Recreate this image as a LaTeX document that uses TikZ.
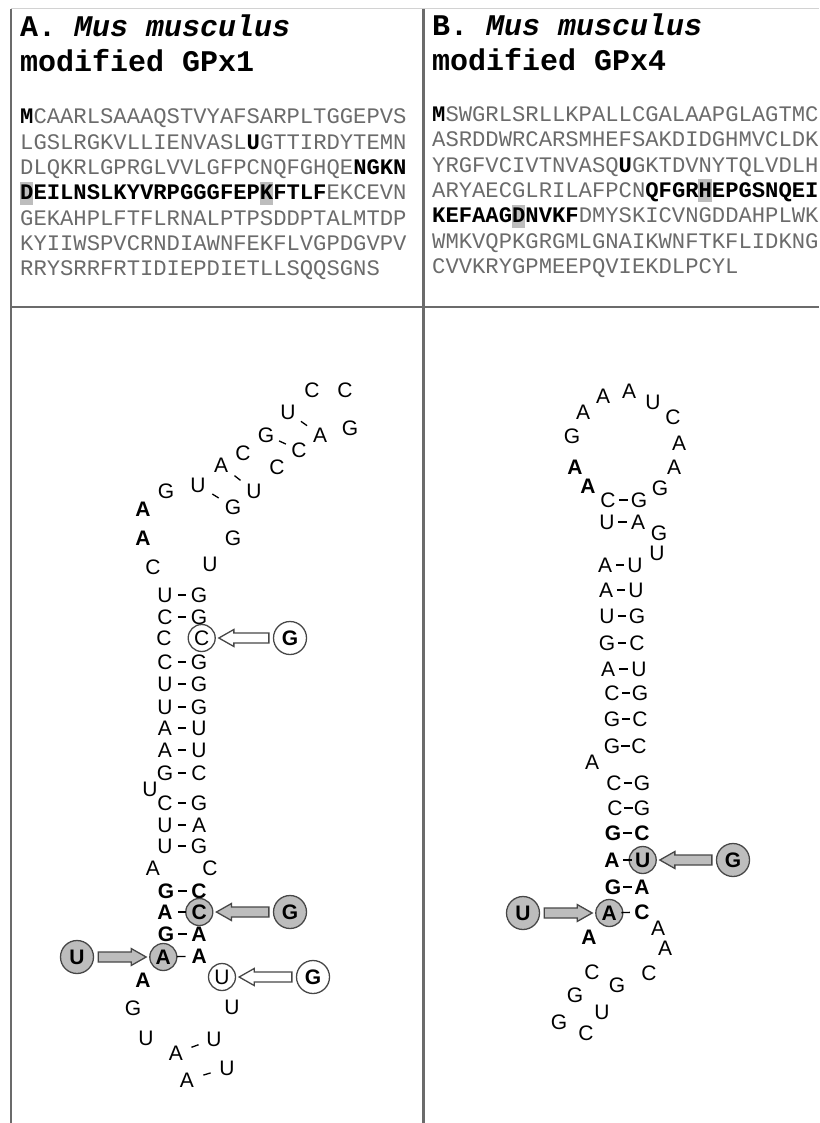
\documentclass[tikz,border=0pt]{standalone}
\usepackage{fontspec}
\newfontfamily\rnafont{Liberation Sans}
\newfontfamily\seqfont{Liberation Mono}
\usetikzlibrary{calc}

\definecolor{seqgray}{gray}{0.42}
\definecolor{mutfill}{gray}{0.74}
\definecolor{rimgray}{gray}{0.28}
\definecolor{framegray}{gray}{0.42}

\newcommand{\keyres}[1]{\textcolor{black}{\bfseries #1}}

\tikzset{
  nt/.style={inner sep=0pt, font=\rnafont\fontsize{21}{25}\selectfont},
  ntb/.style={inner sep=0pt, font=\rnafont\bfseries\fontsize{21}{25}\selectfont},
  mut/.style={circle, draw=rimgray, line width=1.3pt, inner sep=0pt,
    minimum size=27pt, font=\rnafont\bfseries\fontsize{21}{25}\selectfont},
  mutgray/.style={mut, fill=mutfill},
  mutwhite/.style={mut, fill=white, font=\rnafont\fontsize{21}{25}\selectfont},
  donor/.style={mut, minimum size=33pt},
  bond/.style={line width=1.3pt, to path={
      ($(\tikztostart)!0.5!(\tikztotarget)!#1!(\tikztostart)$) --
      ($(\tikztostart)!0.5!(\tikztotarget)!#1!(\tikztotarget)$)}},
  bond/.default=4.2pt,
  arrowline/.style={draw=rimgray, line width=1.3pt, line join=miter},
  title/.style={anchor=base west, inner sep=0pt,
    font=\seqfont\bfseries\fontsize{30}{34}\selectfont},
  seq/.style={anchor=base west, inner sep=0pt, text=seqgray,
    font=\seqfont\fontsize{22.2}{25}\selectfont}
}

% block arrow between two node anchors
\newcommand{\fatarrow}[3]{%
  \draw[arrowline, fill=#1] let \p1=(#2), \p2=(#3), \n1={sign(\x2-\x1)} in
    ({\x1+(\n1)*4pt},{\y1+5pt}) -- ({\x2-(\n1)*18pt},{\y1+5pt})
    -- ({\x2-(\n1)*18pt},{\y1+8.5pt}) -- ({\x2-(\n1)*3pt},\y1)
    -- ({\x2-(\n1)*18pt},{\y1-8.5pt}) -- ({\x2-(\n1)*18pt},{\y1-5pt})
    -- ({\x1+(\n1)*4pt},{\y1-5pt}) -- cycle;
}

\begin{document}
\begin{tikzpicture}[x=1pt, y=-1pt]
  \useasboundingbox (0,0) rectangle (819,1123);

  % frame
  \draw[gray!35, line width=1pt] (11,9) -- (819,9);
  \draw[framegray, line width=2.2pt] (11,9) -- (11,1123);
  \draw[framegray, line width=2.2pt] (423.5,9) -- (423.5,1123);
  \draw[framegray, line width=2.2pt] (11,307) -- (819,307);

  % sequences
  \foreach \x/\b in {20/199.9, 259.76/199.9, 698.4/197.4, 511.92/222.7}
    \fill[mutfill] (\x,{\b-18}) rectangle ++(13.32,23);

  \node[title] (titA1) at (20,37) {A. \textit{Mus musculus}};
  \node[title] (titA2) at (20,72) {modified GPx1};
  \node[seq] (seqA1) at (20,124.0) {\keyres{M}CAARLSAAAQSTVYAFSARPLTGGEPVS};
  \node[seq] (seqA2) at (20,149.3) {LGSLRGKVLLIENVASL\keyres{U}GTTIRDYTEMN};
  \node[seq] (seqA3) at (20,174.6) {DLQKRLGPRGLVVLGFPCNQFGHQE\keyres{NGKN}};
  \node[seq] (seqA4) at (20,199.9) {\keyres{DEILNSLKYVRPGGGFEPKFTLF}EKCEVN};
  \node[seq] (seqA5) at (20,225.2) {GEKAHPLFTFLRNALPTPSDDPTALMTDP};
  \node[seq] (seqA6) at (20,250.5) {KYIIWSPVCRNDIAWNFEKFLVGPDGVPV};
  \node[seq] (seqA7) at (20,275.8) {RRYSRRFRTIDIEPDIETLLSQQSGNS};

  \node[title] (titB1) at (432,36) {B. \textit{Mus musculus}};
  \node[title] (titB2) at (432,71) {modified GPx4};
  \node[seq] (seqB1) at (432,121.5) {\keyres{M}SWGRLSRLLKPALLCGALAAPGLAGTMC};
  \node[seq] (seqB2) at (432,146.8) {ASRDDWRCARSMHEFSAKDIDGHMVCLDK};
  \node[seq] (seqB3) at (432,172.1) {YRGFVCIVTNVASQ\keyres{U}GKTDVNYTQLVDLH};
  \node[seq] (seqB4) at (432,197.4) {ARYAECGLRILAFPCN\keyres{QFGRHEPGSNQEI}};
  \node[seq] (seqB5) at (432,222.7) {\keyres{KEFAAGDNVKF}DMYSKICVNGDDAHPLWK};
  \node[seq] (seqB6) at (432,248.0) {WMKVQPKGRGMLGNAIKWNFTKFLIDKNG};
  \node[seq] (seqB7) at (432,273.3) {CVVKRYGPMEEPQVIEKDLPCYL};

  % A: stem
  \foreach \i/\l/\r/\y in {1/U/G/595, 2/C/G/617, 4/C/G/662, 5/U/G/684,
      6/U/G/707, 7/A/U/728, 8/A/U/750, 9/G/C/773, 10/C/G/803, 11/U/A/825, 12/U/G/846} {
    \node[nt] (L\i) at (165,\y) {\l};
    \node[nt] (R\i) at (199,\y) {\r};
    \draw[bond] (L\i) to (R\i);
  }
  \node[nt] (L3) at (164,638) {C};
  \node[mutwhite] (R3) at (201.7,638) {C};
  \foreach \i/\l/\r/\y in {13/G/C/891, 15/G/A/934} {
    \node[ntb] (L\i) at (166,\y) {\l};
    \node[ntb] (R\i) at (199,\y) {\r};
    \draw[bond] (L\i) to (R\i);
  }
  \node[ntb] (L14) at (165,912) {A};
  \node[mutgray] (R14) at (199.3,912) {C};
  \draw[bond] (L14) to (R14);
  \node[mutgray] (L16) at (163.3,957) {A};
  \node[ntb] (R16) at (199.3,956) {A};
  \draw[bond] (L16) to (R16);
  \node[nt] (aU) at (150,789) {U};
  \node[nt] (aA) at (153,868) {A};
  \node[nt] (aC) at (210,868) {C};

  % A: hairpin loop
  \foreach \n/\l/\x/\y in {la1/C/153/567, la4/G/166/491, la5/U/198/485,
      la6/A/221/465, la7/C/243/453, la8/G/266/435, la9/U/288/412, la10/C/312/390,
      la11/C/345/390, la12/G/350/428, la13/A/320/435, la14/C/299/450,
      la15/C/277/467, la16/U/254/491, la17/G/233/507, la18/G/233/538, la19/U/210/564}
    \node[nt] (\n) at (\x,\y) {\l};
  \node[ntb] (la2) at (143,538) {A};
  \node[ntb] (la3) at (143,509) {A};
  \draw[bond=3.8pt] (la9) to (la13);
  \draw[bond=3.8pt] (la8) to (la14);
  \draw[bond=3.8pt] (la6) to (la16);
  \draw[bond=3.8pt] (la5) to (la17);

  % A: lower loop
  \node[ntb] (lb1) at (143,980) {A};
  \foreach \n/\l/\x/\y in {lb2/G/133/1008, lb3/U/146/1038, lb4/A/176/1053,
      lb5/A/187/1080, lb6/U/227/1068, lb7/U/214/1039, lb8/U/232/1007}
    \node[nt] (\n) at (\x,\y) {\l};
  \node[mutwhite] (lbU) at (222,977) {U};
  \draw[bond=3.8pt] (lb4) to (lb7);
  \draw[bond=3.8pt] (lb5) to (lb6);

  % A: substitutions
  \node[donor, fill=white] (aG1) at (290,638) {G};
  \node[donor, fill=mutfill] (aG2) at (290,912) {G};
  \node[donor, fill=mutfill] (aU1) at (77,957) {U};
  \node[donor, fill=white] (aG3) at (313,977) {G};
  \fatarrow{white}{aG1.west}{R3.east}
  \fatarrow{mutfill}{aG2.west}{R14.east}
  \fatarrow{mutfill}{aU1.east}{L16.west}
  \fatarrow{white}{aG3.west}{lbU.east}

  % B: stem
  \foreach \i/\l/\r/\xl/\xr/\y in {1/C/G/608/639/500, 2/U/A/607/638/522,
      3/A/U/605/635/565, 4/A/U/606/636/590, 5/U/G/607/637/616, 6/G/C/607/637/643,
      7/A/U/608/639/669, 8/C/G/612/640/693, 9/G/C/612/640/719, 10/G/C/612/639/746,
      11/C/G/614/642/783, 12/C/G/615/642/808} {
    \node[nt] (bL\i) at (\xl,\y) {\l};
    \node[nt] (bR\i) at (\xr,\y) {\r};
    \draw[bond] (bL\i) to (bR\i);
  }
  \foreach \i/\l/\r/\y in {13/G/C/833, 15/G/A/887} {
    \node[ntb] (bL\i) at (613,\y) {\l};
    \node[ntb] (bR\i) at (642,\y) {\r};
    \draw[bond] (bL\i) to (bR\i);
  }
  \node[ntb] (bL14) at (612,860) {A};
  \node[mutgray] (bR14) at (642.7,860) {U};
  \draw[bond] (bL14) to (bR14);
  \node[mutgray] (bL16) at (609.3,913) {A};
  \node[ntb] (bR16) at (642,912) {C};
  \draw[bond] (bL16) to (bR16);
  \node[nt] (bg1) at (659,533) {G};
  \node[nt] (bg2) at (657,553) {U};
  \node[nt] (bA) at (592,762) {A};

  % B: hairpin loop
  \node[ntb] (lc1) at (588,486) {A};
  \node[ntb] (lc2) at (575,467) {A};
  \foreach \n/\l/\x/\y in {lc3/G/572/436, lc4/A/583/412, lc5/A/603/396,
      lc6/A/629/391, lc7/U/653/402, lc8/C/673/417, lc9/A/679/443,
      lc10/A/674/467, lc11/G/660/488}
    \node[nt] (\n) at (\x,\y) {\l};

  % B: lower loop
  \node[ntb] (ld1) at (589,937) {A};
  \foreach \n/\l/\x/\y in {ld2/C/592/972, ld3/G/575/995, ld4/G/559/1022,
      ld5/C/586/1033, ld6/U/602/1012, ld7/G/617/985, ld8/C/649/973,
      ld9/A/665/948, ld10/A/658/928}
    \node[nt] (\n) at (\x,\y) {\l};

  % B: substitutions
  \node[donor, fill=mutfill] (bG1) at (733,860) {G};
  \node[donor, fill=mutfill] (bU1) at (523,913) {U};
  \fatarrow{mutfill}{bG1.west}{bR14.east}
  \fatarrow{mutfill}{bU1.east}{bL16.west}
\end{tikzpicture}
\end{document}
